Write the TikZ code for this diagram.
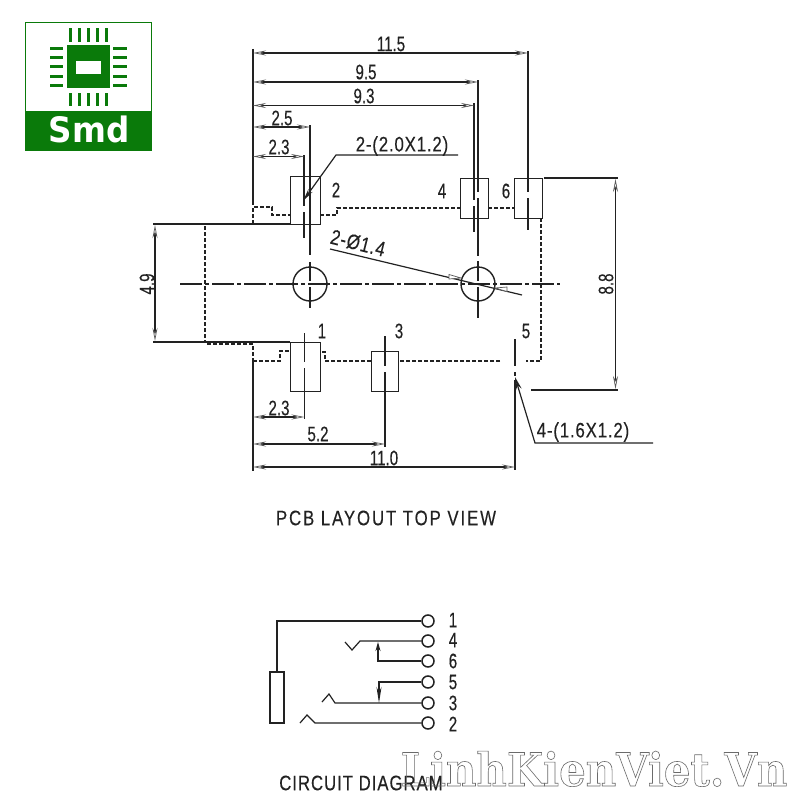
\documentclass[tikz,border=0pt]{standalone}
\usepackage{fontspec}
\usetikzlibrary{arrows.meta}
\setmainfont{Liberation Sans}
\newfontfamily\cadfont[FakeStretch=0.72,FakeBold=0.25]{Liberation Sans}
\newfontfamily\widefont[FakeStretch=0.8,LetterSpace=4,FakeBold=0.25]{Liberation Sans}
\newfontfamily\capfont[FakeStretch=0.8,LetterSpace=9,FakeBold=0.25]{Liberation Sans}
\newfontfamily\capfontb[FakeStretch=0.8,LetterSpace=4.5,FakeBold=0.25]{Liberation Sans}
\newfontfamily\logofont[FakeStretch=0.93]{DejaVu Sans Bold}
\newfontfamily\markfont[FakeStretch=0.91]{DejaVu Serif Bold}
\newcommand{\outlinetext}[1]{\special{pdf:code q 1 Tr 0.6 w 0.42 0.42 0.42 RG}#1\special{pdf:code Q}}
\definecolor{smdgreen}{HTML}{0A7A0A}
\definecolor{ink}{HTML}{222222}
\tikzset{
  x=1pt,y=-1pt,
  ln/.style={line width=1.2pt,draw=ink},
  dsh/.style={line width=1.2pt,draw=ink,dash pattern=on 4pt off 2pt},
  cline/.style={line width=1.2pt,draw=ink,dash pattern=on 22pt off 3pt on 4pt off 3pt},
  dimtip/.tip={Stealth[open,length=13pt,width=5pt,line width=0.7pt,color=ink!75]},
  dimen/.style={ln,dimtip-dimtip},
  pad/.style n args={2}{draw=ink,line width=1.4pt,inner sep=0pt,minimum width=#1,minimum height=#2},
  cad/.style={font=\cadfont\fontsize{21}{21}\selectfont,text=ink,inner sep=0pt},
  widecad/.style={font=\widefont\fontsize{21}{21}\selectfont,text=ink,inner sep=0pt},
  term/.style={circle,draw=ink,line width=1.5pt,fill=white,inner sep=0pt,minimum size=12pt},
}
\begin{document}
\begin{tikzpicture}
\useasboundingbox (0,0) rectangle (800,800);
\fill[white] (0,0) rectangle (800,800);

% logo
\draw[smdgreen,line width=1pt,fill=white] (25.5,22.5) rectangle (151.5,150.5);
\fill[smdgreen] (25,111) rectangle (152,151);
\fill[smdgreen] (67,45) rectangle (110,88);
\fill[white] (76,61) rectangle (101,74);
\foreach \p in {70,79,88,97,106}{
  \fill[smdgreen] (\p-1.5,28) rectangle (\p+1.5,42);
  \fill[smdgreen] (\p-1.5,93) rectangle (\p+1.5,106);
}
\foreach \p in {49,58,67,76,85}{
  \fill[smdgreen] (50,\p-1.5) rectangle (63,\p+1.5);
  \fill[smdgreen] (113,\p-1.5) rectangle (127,\p+1.5);
}
\node[text=white,inner sep=0pt,font=\logofont\fontsize{35}{35}\selectfont] (logo) at (89,129) {Smd};

% pads
\node[pad={30pt}{48pt},anchor=north west] (p2) at (290,176) {};
\node[pad={28pt}{40pt},anchor=north west] (p4) at (460,178) {};
\node[pad={28pt}{40pt},anchor=north west] (p6) at (514,178) {};
\node[pad={30pt}{49pt},anchor=north west] (p1) at (290,342) {};
\node[pad={27pt}{40pt},anchor=north west] (p3) at (371,351) {};

% holes
\node[circle,draw=ink,line width=1.4pt,inner sep=0pt,minimum size=34pt] (h1) at (310,284) {};
\node[circle,draw=ink,line width=1.4pt,inner sep=0pt,minimum size=34pt] (h2) at (478,284) {};

% dashed body outline
\draw[dsh] (253,224) -- (253,207) -- (272,207) -- (272,215) -- (290,215);
\draw[dsh] (320,215) -- (337,215) -- (337,208) -- (460,208);
\draw[dsh] (488,208) -- (514,208);
\draw[dsh] (541,218) -- (541,361) -- (526,361);
\draw[dsh] (500,361) -- (398,361);
\draw[dsh] (371,361) -- (325,361) -- (325,352) -- (320,352);
\draw[dsh] (253,361) -- (280,361) -- (280,351) -- (290,351);
\draw[dsh] (205,226) -- (205,342);
\draw[dsh] (207,344) -- (253,344) -- (253,361);

% connector body
\draw[ln] (153,224) -- (290,224);
\draw[ln] (153,342) -- (290,342);

% centre line
\draw[cline] (180,284) -- (560,284);

% extension lines
\draw[ln] (253,49) -- (253,205);
\draw[ln] (253,361) -- (253,471);
\draw[ln] (310,125) -- (310,255);
\draw[ln] (310,262) -- (310,281);
\draw[ln] (310,287) -- (310,308);
\draw[ln] (304,155) -- (304,206);
\draw[ln] (304,212) -- (304,238);
\draw[ln] (474,103) -- (474,200);
\draw[ln] (474,206) -- (474,232);
\draw[ln] (478,80) -- (478,192);
\draw[ln] (478,198) -- (478,256);
\draw[ln] (478,261) -- (478,281);
\draw[ln] (478,287) -- (478,318);
\draw[ln] (528,51) -- (528,192);
\draw[ln] (528,198) -- (528,230);
\draw[ln] (544,178) -- (618,178);
\draw[ln] (531,390) -- (618,390);
\draw[ln] (304.5,333) -- (304.5,362);
\draw[ln] (304.5,368) -- (304.5,419);
\draw[ln] (385,336) -- (385,366);
\draw[ln] (385,372) -- (385,447);
\draw[ln] (515,339) -- (515,366);
\draw[ln] (515,372) -- (515,376);
\draw[ln] (515,380) -- (515,470);

% dimensions
\draw[dimen] (253,53) -- (528,53);
\draw[dimen] (253,82) -- (478,82);
\draw[dimen] (253,105.5) -- (474,105.5);
\draw[dimen] (253,127) -- (310,127);
\draw[dimen] (253,156.5) -- (304,156.5);
\draw[dimen] (253,417) -- (304.5,417);
\draw[dimen] (253,444) -- (385,444);
\draw[dimen] (253,467) -- (515,467);
\draw[dimen] (155,225) -- (155,341);
\draw[dimen] (615.5,179) -- (615.5,389);

% leaders
\draw[ln,{Stealth[length=13pt,width=5pt]}-] (303,201) -- (336,155) -- (458,155);
\draw[ln,{Stealth[open,length=13pt,width=6pt]}-] (515,377) -- (535,443) -- (653,443);
\draw[ln] (330,249) -- (522,295);
\path[draw=ink!75,line width=0.7pt,fill=white] (449,274.5) -- (461,278) -- (449,279) -- cycle;
\path[draw=ink!75,line width=0.7pt,fill=white] (507,291.5) -- (495,288) -- (507,287) -- cycle;

% dimension text
\node[cad] (t115) at (391,44) {11.5};
\node[cad] (t95)  at (366,72) {9.5};
\node[cad] (t93)  at (364,96) {9.3};
\node[cad] (t25)  at (282,118) {2.5};
\node[cad] (t23a) at (279,147) {2.3};
\node[cad] (tl2)  at (336,190) {2};
\node[cad] (tl4)  at (442,191) {4};
\node[cad] (tl6)  at (506,191) {6};
\node[widecad] (tpd)  at (402,146) {2-(2.0X1.2)};
\node[widecad,rotate=-14] (thole) at (358,243) {2-Ø1.4};
\node[cad,rotate=90] (t49) at (147,284) {4.9};
\node[cad,rotate=90] (t88) at (606,284) {8.8};
\node[cad] (tl1) at (322,331) {1};
\node[cad] (tl3) at (399,331) {3};
\node[cad] (tl5) at (526,331) {5};
\node[cad] (t23b) at (279,408) {2.3};
\node[cad] (t52) at (318,434) {5.2};
\node[cad] (t110) at (384,458) {11.0};
\node[widecad] (tsl) at (583,432) {4-(1.6X1.2)};
\node[font=\capfont\fontsize{21}{21}\selectfont,text=ink,inner sep=0pt] (cap1) at (386,518) {PCB LAYOUT TOP VIEW};

% circuit
\node[term] (c1) at (428,621) {};
\node[term] (c4) at (428,641) {};
\node[term] (c6) at (428,661) {};
\node[term] (c5) at (428,682) {};
\node[term] (c3) at (428,703) {};
\node[term] (c2) at (428,723) {};
\node[draw=ink,line width=1.2pt,inner sep=0pt,minimum width=14pt,minimum height=51pt] (plug) at (277,697.5) {};
\draw[ln] (plug.north) -- (277,621) -- (c1);
\draw[ln] (345,642) -- (352,650) -- (360,641) -- (c4);
\draw[ln,-{Stealth[length=9pt,width=5pt]}] (c6) -- (378,661) -- (378,642);
\draw[ln,-{Stealth[length=16pt,width=5pt]}] (c5) -- (379,682) -- (379,703);
\draw[ln] (322,702) -- (329,694) -- (335,703) -- (c3);
\draw[ln] (300,723) -- (307,715) -- (315,723) -- (c2);
\node[cad] (n1) at (453,620) {1};
\node[cad] (n4) at (453,640) {4};
\node[cad] (n6) at (453,661) {6};
\node[cad] (n5) at (453,682) {5};
\node[cad] (n3) at (453,703) {3};
\node[cad] (n2) at (453,724) {2};
\node[font=\capfontb\fontsize{21}{21}\selectfont,text=ink,inner sep=0pt] (cap2) at (361,783) {CIRCUIT DIAGRAM};

% watermark
\node[font=\markfont\fontsize{46}{46}\selectfont,inner sep=0pt,anchor=base] (wm) at (594,786) {\outlinetext{LinhKienViet.Vn}};
\end{tikzpicture}
\end{document}
